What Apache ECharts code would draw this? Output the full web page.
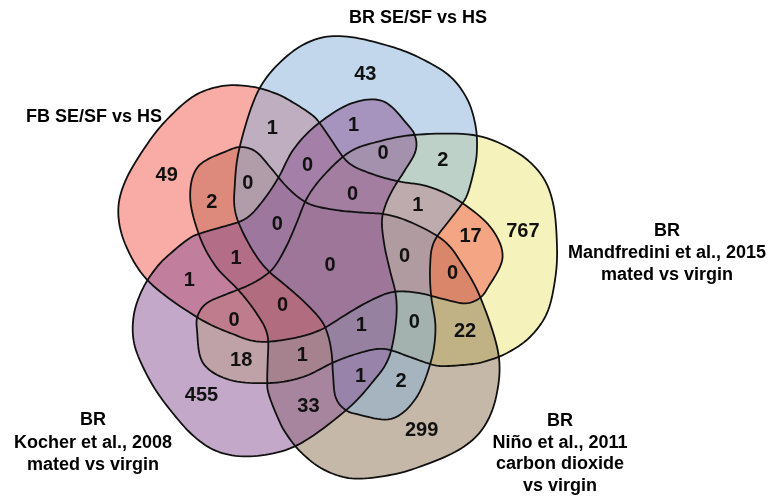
<!DOCTYPE html>
<html>
<head>
<meta charset="utf-8">
<script src="https://cdn.jsdelivr.net/npm/echarts/dist/echarts.min.js"></script>
<style>
  html, body { margin: 0; padding: 0; background: #ffffff; }
  #chart { width: 771px; height: 497px; }
</style>
</head>
<body>
<div id="chart"></div>
<script>
// Five sets, numbered clockwise from the top of the diagram.
const setNames = [
  'BR SE/SF vs HS',
  'BR\nMandfredini et al., 2015\nmated vs virgin',
  'BR\nNiño et al., 2011\ncarbon dioxide\nvs virgin',
  'BR\nKocher et al., 2008\nmated vs virgin',
  'FB SE/SF vs HS'
];
const setColors = ['rgba(133,175,215,0.5)', 'rgba(235,231,119,0.5)', 'rgba(141,113,81,0.5)',
                   'rgba(137,81,147,0.5)', 'rgba(243,89,77,0.5)'];
// Compass direction (degrees clockwise from up) of each set's main lobe.
const lobeAngles = [12, 84, 156, 228, 300];
// Fill order (bottom to top).
const drawOrder = [1, 2, 4, 0, 3];

// Region counts; each key lists the set numbers the region belongs to.
const regionSets = [
  '0', '1', '2', '3', '4',
  '01', '12', '23', '34', '04',
  '03', '14', '02', '13', '24',
  '013', '124', '023', '134', '024',
  '014', '012', '123', '234', '034',
  '0134', '0124', '0123', '1234', '0234',
  '01234'
];
const regionCounts = [
  43, 767, 299, 455, 49,
  2, 22, 33, 1, 1,
  1, 17, 2, 18, 2,
  0, 0, 1, 0, 0,
  1, 0, 1, 1, 0,
  0, 0, 1, 0, 0,
  0
];

// Outline of one set around the diagram centre (x right, y up),
// drawn with its main lobe facing 84 degrees; the others are rotations of it.
const BASE_ANGLE = 84;
const outline = [
  [-138.6, -68.6], [-137.6, -53.6], [-128.6, -41.6], [-108.6, -32.6], [-88.6, -24.6],
  [-72.6, -15.6], [-60.6, -4.6], [-48.6, 16.4], [-38.6, 39.4], [-29.6, 61.4],
  [-17.6, 79.4], [1.4, 99.4], [17.4, 111.4], [37.4, 118.4], [77.4, 126.4],
  [137.4, 126.4], [177.4, 111.4], [204.4, 88.4], [217.4, 58.4], [221.4, 14.4],
  [219.4, -18.6], [211.4, -51.6], [194.4, -75.6], [171.4, -91.6], [147.4, -100.6],
  [127.4, -103.6], [104.4, -104.6], [91.4, -101.6], [74.4, -95.6], [54.4, -88.6],
  [41.4, -87.6], [27.4, -90.6], [11.4, -95.6], [-5.6, -102.6], [-32.6, -115.6],
  [-65.6, -121.6], [-105.6, -118.6], [-132.6, -101.6]
];

// Where a region's count sits, by the pattern of sets it belongs to
// (set numbers relative to the set k whose lobe gives the direction).
const labelOrbits = [
  { pattern: [0], r: 189.6, offset: -3 },
  { pattern: [0, 1], r: 147.4, offset: 34.6 },
  { pattern: [0, 3], r: 137.2, offset: -4.5 },
  { pattern: [0, 1, 3], r: 117.6, offset: 11.8 },
  { pattern: [0, 1, 4], r: 99.5, offset: 43.6 },
  { pattern: [0, 1, 3, 4], r: 69, offset: 2.2 },
  { pattern: [0, 1, 2, 3, 4], r: 7, offset: 219 }
];

function rotate(p, deg) {
  const a = deg * Math.PI / 180, c = Math.cos(a), s = Math.sin(a);
  return [p[0] * c + p[1] * s, -p[0] * s + p[1] * c];
}

function smoothClosed(pts, steps) {
  const out = [], n = pts.length;
  for (let i = 0; i < n; i++) {
    const p0 = pts[(i - 1 + n) % n], p1 = pts[i], p2 = pts[(i + 1) % n], p3 = pts[(i + 2) % n];
    for (let s = 0; s < steps; s++) {
      const t = s / steps, t2 = t * t, t3 = t2 * t;
      const f = d => 0.5 * (2 * p1[d] + (-p0[d] + p2[d]) * t +
        (2 * p0[d] - 5 * p1[d] + 4 * p2[d] - p3[d]) * t2 +
        (-p0[d] + 3 * p1[d] - 3 * p2[d] + p3[d]) * t3);
      out.push([f(0), f(1)]);
    }
  }
  return out;
}
const smoothOutline = smoothClosed(outline, 10);

function labelPosition(key) {
  const members = key.split('').map(Number);
  for (const orbit of labelOrbits) {
    if (orbit.pattern.length !== members.length) continue;
    for (let k = 0; k < 5; k++) {
      const rel = members.map(m => (m - k + 5) % 5).sort((a, b) => a - b);
      if (rel.every((v, i) => v === orbit.pattern[i])) {
        const a = (lobeAngles[k] + orbit.offset) * Math.PI / 180;
        return [orbit.r * Math.sin(a), orbit.r * Math.cos(a)];
      }
    }
  }
  return [0, 0];
}

const shapeData = drawOrder.map(k => ({ value: [0, 0, k] }));
const labelData = regionSets.map((key, i) => {
  const p = labelPosition(key);
  return { value: [p[0], p[1], regionCounts[i]] };
});

function setPolygon(api, k) {
  const deg = lobeAngles[k] - BASE_ANGLE;
  return smoothOutline.map(p => api.coord(rotate(p, deg)));
}

const chart = echarts.init(document.getElementById('chart'), null, { renderer: 'canvas' });
const nameFont = 'bold 18px "Liberation Sans", Arial, sans-serif';

chart.setOption({
  animation: false,
  backgroundColor: '#ffffff',
  grid: { left: 0, top: 0, right: 0, bottom: 0 },
  xAxis: { type: 'value', min: -335.6, max: 435.4, show: false },
  yAxis: { type: 'value', min: -235.6, max: 261.4, show: false },
  graphic: [
    { type: 'text', x: 418, y: 18, style: { text: setNames[0], font: nameFont, fill: '#000', align: 'center', verticalAlign: 'middle' } },
    { type: 'text', x: 667, y: 253, style: { text: setNames[1], font: nameFont, fill: '#000', align: 'center', verticalAlign: 'middle', lineHeight: 22 } },
    { type: 'text', x: 560, y: 453.5, style: { text: setNames[2], font: nameFont, fill: '#000', align: 'center', verticalAlign: 'middle', lineHeight: 21.7 } },
    { type: 'text', x: 93, y: 443, style: { text: setNames[3], font: nameFont, fill: '#000', align: 'center', verticalAlign: 'middle', lineHeight: 22.5 } },
    { type: 'text', x: 94, y: 117, style: { text: setNames[4], font: nameFont, fill: '#000', align: 'center', verticalAlign: 'middle' } }
  ],
  series: [
    {
      type: 'custom', name: 'fills', coordinateSystem: 'cartesian2d', z: 1,
      data: shapeData, encode: { x: 0, y: 1 }, silent: true,
      renderItem(params, api) {
        const k = api.value(2);
        return { type: 'polygon', shape: { points: setPolygon(api, k) },
                 style: { fill: setColors[k], stroke: null } };
      }
    },
    {
      type: 'custom', name: 'outlines', coordinateSystem: 'cartesian2d', z: 2,
      data: shapeData, encode: { x: 0, y: 1 }, silent: true,
      renderItem(params, api) {
        const k = api.value(2);
        return { type: 'polygon', shape: { points: setPolygon(api, k) },
                 style: { fill: null, stroke: '#111', lineWidth: 1.8, lineJoin: 'round' } };
      }
    },
    {
      type: 'custom', name: 'counts', coordinateSystem: 'cartesian2d', z: 3,
      data: labelData, encode: { x: 0, y: 1 }, silent: true,
      renderItem(params, api) {
        const pt = api.coord([api.value(0), api.value(1)]);
        return { type: 'text', x: pt[0], y: pt[1],
                 style: { text: String(api.value(2)), font: 'bold 20px "Liberation Sans", Arial, sans-serif',
                          fill: '#111', align: 'center', verticalAlign: 'middle' } };
      }
    }
  ]
});
</script>
</body>
</html>
